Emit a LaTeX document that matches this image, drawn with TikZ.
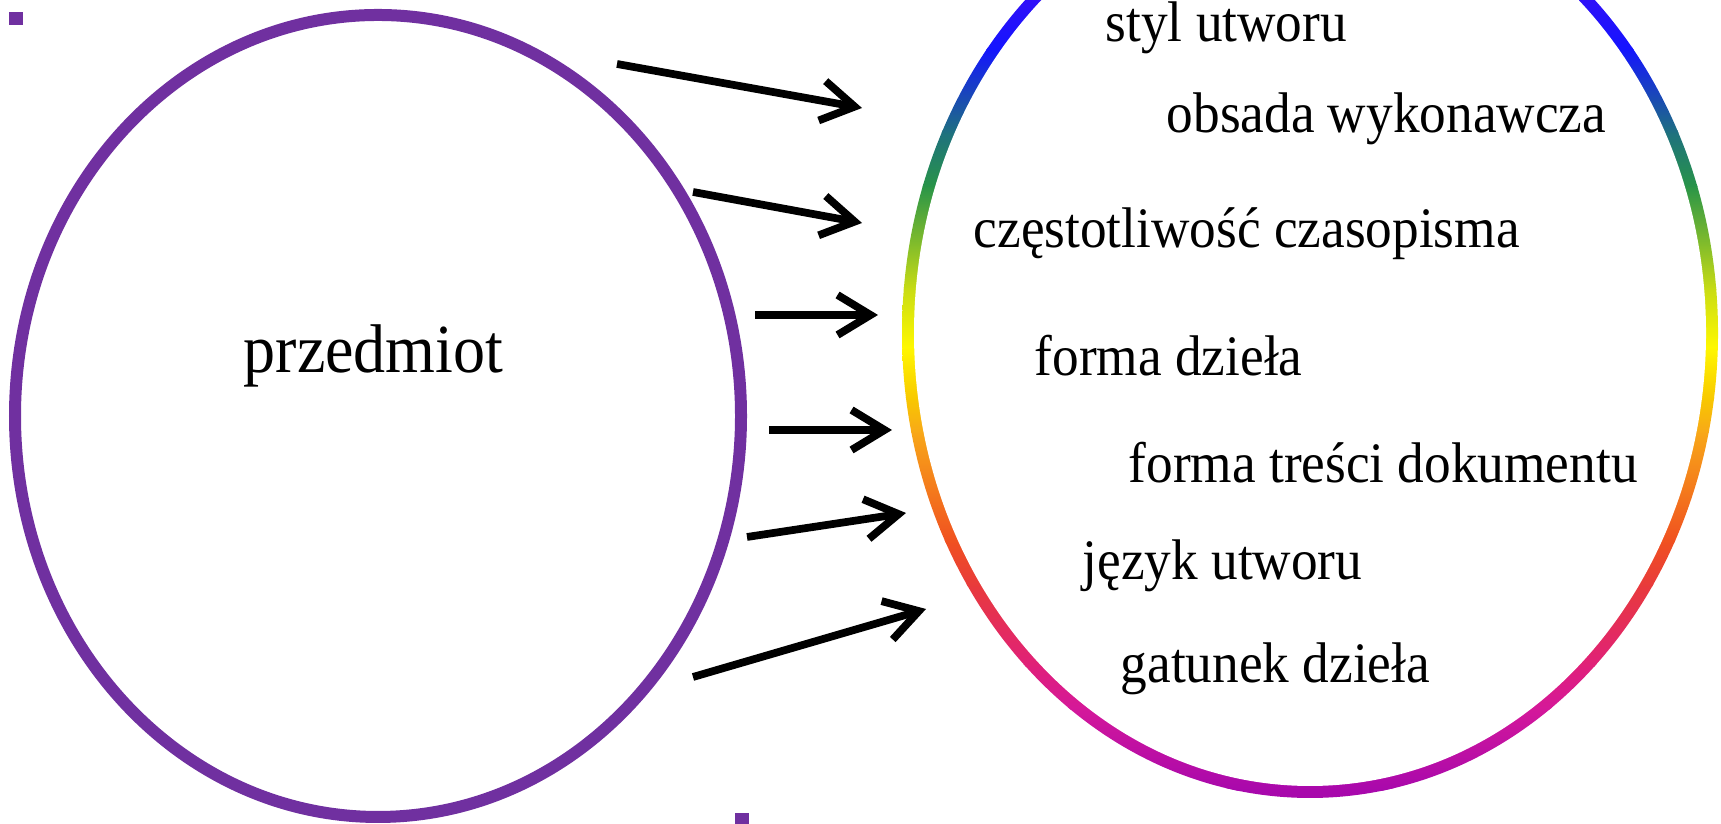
\documentclass[tikz,border=0pt]{standalone}
\usepackage{fontspec}
\setmainfont{Liberation Serif}
\newfontfamily\narrowserif[FakeStretch=0.93]{Liberation Serif}
\usetikzlibrary{arrows.meta}

\definecolor{frame}{HTML}{7030A0}
\definecolor{ringA}{HTML}{A808AC}
\definecolor{ringB}{HTML}{D4189A}
\definecolor{ringC}{HTML}{E0207A}
\definecolor{ringD}{HTML}{E83A3C}
\definecolor{ringE}{HTML}{F05020}
\definecolor{ringF}{HTML}{F8A818}
\definecolor{ringG}{HTML}{F8C800}
\definecolor{ringH}{HTML}{FFF800}
\definecolor{ringI}{HTML}{C8DC14}
\definecolor{ringJ}{HTML}{289448}
\definecolor{ringK}{HTML}{1E7080}
\definecolor{ringL}{HTML}{1414FF}
\definecolor{ringM}{HTML}{3010F8}
\definecolor{ringN}{HTML}{5000E0}

\tikzset{
  facet/.style={anchor=base west, inner sep=0pt, font=\narrowserif\fontsize{16.3}{19}\selectfont},
  facetarrow/.style={line width=2.2pt, -{Straight Barb[length=3.3mm,width=4mm]}},
}

\begin{document}
\begin{tikzpicture}
	\useasboundingbox (0,0) rectangle (17.21,8.24);
	
	% selection handles
	\fill[frame] (0.09,7.99) rectangle (0.23,8.12);
	\fill[frame] (7.35,0) rectangle (7.49,0.11);
	
	% left ellipse
	\draw[frame, line width=0.12cm] (3.78,4.08) ellipse (3.63 and 4.01);
	\node[anchor=base west, inner sep=0pt, font=\narrowserif\fontsize{19.6}{23}\selectfont] (subject) at (2.43,4.51) {przedmiot};
	
	% rainbow ellipse
	\begin{scope}
		\clip (13.10,4.91) ellipse (4.08 and 4.65);
		\foreach \ya/\ca/\yb/\cb in {0.20/ringA/0.33/ringA, 0.33/ringA/1.14/ringB, 1.14/ringB/1.57/ringC,
			1.57/ringC/2.37/ringD, 2.37/ringD/2.81/ringE, 2.81/ringE/3.91/ringF, 3.91/ringF/4.24/ringG,
			4.24/ringG/4.76/ringH, 4.76/ringH/5.34/ringI, 5.34/ringI/6.37/ringJ, 6.37/ringJ/6.91/ringK,
			6.91/ringK/7.74/ringL, 7.74/ringL/8.24/ringM, 8.24/ringM/9.70/ringN}
			\shade[bottom color=\ca, top color=\cb] (8.9,\ya) rectangle (17.3,\yb+0.02);
	\end{scope}
	\fill[white] (13.10,4.91) ellipse (3.96 and 4.53);
	
	\node[facet] (style) at (11.05,7.82) {styl utworu};
	\node[facet] (cast) at (11.66,6.91) {obsada wykonawcza};
	\node[facet] (freq) at (9.73,5.76) {częstotliwość czasopisma};
	\node[facet] (form) at (10.34,4.48) {forma dzieła};
	\node[facet] (content) at (11.28,3.41) {forma treści dokumentu};
	\node[facet] (lang) at (10.82,2.44) {język utworu};
	\node[facet] (genre) at (11.20,1.41) {gatunek dzieła};
	
	% arrows
	\coordinate (s1) at (6.17,7.60); \coordinate (t1) at (8.62,7.16);
	\coordinate (s2) at (6.93,6.32); \coordinate (t2) at (8.62,6.01);
	\coordinate (s3) at (7.55,5.09); \coordinate (t3) at (8.78,5.09);
	\coordinate (s4) at (7.69,3.94); \coordinate (t4) at (8.92,3.94);
	\coordinate (s5) at (7.47,2.87); \coordinate (t5) at (9.06,3.11);
	\coordinate (s6) at (6.93,1.47); \coordinate (t6) at (9.26,2.15);
	\foreach \i in {1,...,6}
		\draw[facetarrow] (s\i) -- (t\i);
\end{tikzpicture}
\end{document}
